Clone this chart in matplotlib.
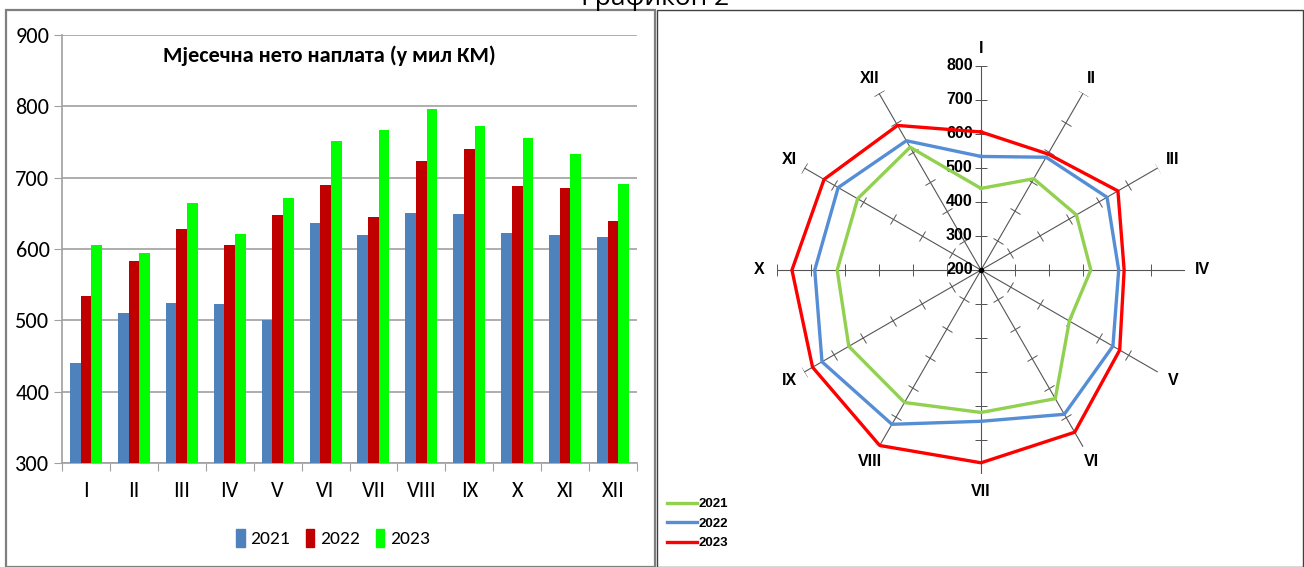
import matplotlib
matplotlib.use("Agg")
import matplotlib.pyplot as plt
import numpy as np
from matplotlib.markers import MarkerStyle
from matplotlib.transforms import Affine2D
from matplotlib.patches import Rectangle, Patch
from matplotlib.lines import Line2D

months = ["I", "II", "III", "IV", "V", "VI", "VII", "VIII", "IX", "X", "XI", "XII"]
years = ["2021", "2022", "2023"]
v2021 = [440, 510, 524, 523, 500, 637, 619, 650, 649, 623, 619, 617]
v2022 = [534, 583, 628, 605, 648, 690, 645, 724, 740, 689, 685, 639]
v2023 = [606, 594, 665, 621, 671, 751, 767, 796, 772, 756, 733, 691]
y_ticks = [300, 400, 500, 600, 700, 800, 900]
r_ticks = [200, 300, 400, 500, 600, 700, 800]

bar_colors = ["#4F81BD", "#C00000", "#00FF00"]
radar_colors = ["#92D050", "#558ED5", "#FF0000"]

narrow = ["Carlito", "Roboto Condensed", "DejaVu Sans"]
bold = ["Liberation Sans", "DejaVu Sans"]

W, H = 1304, 567
fig = plt.figure(figsize=(W / 100, H / 100), dpi=100)

# panel frames
fig.add_artist(Rectangle((6 / W, 0), 649 / W, 1 - 10 / H, transform=fig.transFigure,
                         fill=False, edgecolor="#7f7f7f", lw=1.6))
fig.add_artist(Rectangle((657 / W, 0), 646 / W, 1 - 10 / H, transform=fig.transFigure,
                         fill=False, edgecolor="#404040", lw=1.0))
fig.text(655 / W, 1 - 5 / H, "Графикон 2", ha="center", va="baseline",
         fontsize=19, family=["Open Sans", "DejaVu Sans"])

# ---- bar chart ----
ax = fig.add_axes([62 / W, 1 - 463 / H, 575 / W, 428 / H])
x = np.arange(len(months))
w = 1 / 4.5
for i, (vals, c) in enumerate(zip([v2021, v2022, v2023], bar_colors)):
    ax.bar(x + (i - 1) * w, np.array(vals) - 300, bottom=300, width=w, color=c, zorder=3)
ax.set_xlim(-0.5, len(months) - 0.5)
ax.set_ylim(300, 900)
ax.set_yticks(y_ticks)
ax.set_yticklabels([str(v) for v in y_ticks], family=narrow, fontsize=16)
ax.grid(axis="y", color="#a0a0a0", lw=1.2, zorder=0)
ax.set_xticks(np.arange(-0.5, len(months)), minor=False)
ax.set_xticklabels([])
ax.set_xticks(x, minor=True)
ax.set_xticklabels(months, minor=True, family=narrow, fontsize=16)
ax.tick_params(axis="x", which="minor", length=0, pad=13)
ax.tick_params(axis="x", which="major", length=6, color="#a0a0a0")
ax.tick_params(axis="y", length=6, color="#a0a0a0", pad=3)
for s in ["top", "right"]:
    ax.spines[s].set_visible(False)
for s in ["left", "bottom"]:
    ax.spines[s].set_color("#a0a0a0")
    ax.spines[s].set_linewidth(1.2)
ax.text(0.465, 0.975, "Мјесечна нето наплата (у мил КМ)", transform=ax.transAxes,
        ha="center", va="top", fontsize=16, fontweight="bold", family=narrow)
handles = [Patch(color=c, label=y) for c, y in zip(bar_colors, years)]
fig.legend(handles=handles, loc="center", bbox_to_anchor=(333 / W, 29 / H), ncol=3,
           frameon=False, handlelength=0.45, handleheight=1.1, handletextpad=0.3,
           columnspacing=0.8, prop={"family": narrow, "size": 14})

# ---- radar chart ----
R = 204
cx, cy = 981, 270
pax = fig.add_axes([(cx - R) / W, (H - cy - R) / H, 2 * R / W, 2 * R / H], projection="polar")
pax.set_theta_zero_location("N")
pax.set_theta_direction(-1)
pax.set_rlim(200, 800)
pax.grid(False)
pax.spines["polar"].set_visible(False)
pax.set_xticks([])
pax.set_yticks([])
pax.patch.set_alpha(0)

angles = np.arange(len(months)) * 30
theta = np.deg2rad(angles)
for t, deg, name in zip(theta, angles, months):
    pax.plot([t, t], [200, 800], color="#555555", lw=0.8, zorder=1)
    m = MarkerStyle("_", transform=Affine2D().rotate_deg(-deg))
    pax.plot([t] * 6, r_ticks[1:], ls="none", marker=m, ms=9, mew=0.7,
             color="#555555", zorder=1, snap=False)
    pax.text(t, 852, name, ha="center", va="center",
             fontsize=11.5, fontweight="bold", family=bold)

for v in r_ticks:
    pax.annotate(str(v), (0, v), xytext=(-6, 0), textcoords="offset points",
                 ha="right", va="center", fontsize=11.5, fontweight="bold", family=bold)

tt = np.append(theta, theta[0])
for vals, c, y in zip([v2021, v2022, v2023], radar_colors, years):
    pax.plot(tt, vals + vals[:1], color=c, lw=2.4, zorder=3, label=y)
pax.plot([0], [200], "o", ms=3, color="black", zorder=4)

lh = [Line2D([], [], color=c, lw=2.4) for c in radar_colors]
fig.legend(handles=lh, labels=years, loc="lower left", bbox_to_anchor=(655 / W, 6 / H),
           frameon=False, handlelength=2.3, handletextpad=0.1, labelspacing=0.55,
           prop={"family": bold, "size": 9.5, "weight": "bold"})

fig.savefig("out.png", dpi=100)
